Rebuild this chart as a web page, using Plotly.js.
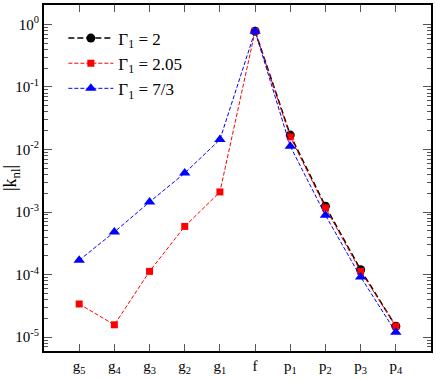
<!DOCTYPE html>
<html>
<head>
<meta charset="utf-8">
<script src="https://cdn.plot.ly/plotly-3.0.1.min.js"></script>
<style>
  html, body { margin: 0; padding: 0; background: #fff; }
  #chart { width: 436px; height: 381px; }
</style>
</head>
<body>
<div id="chart"></div>
<script>
// modes along the x axis
var modes = ['g<sub>5</sub>', 'g<sub>4</sub>', 'g<sub>3</sub>', 'g<sub>2</sub>', 'g<sub>1</sub>',
             'f', 'p<sub>1</sub>', 'p<sub>2</sub>', 'p<sub>3</sub>', 'p<sub>4</sub>'];

// |k_nl| for each Gamma_1 (null = not plotted)
var gamma2 = [null, null, null, null, null, 0.78, 0.017, 1.24e-3, 1.2e-4, 1.5e-5];
var gamma205 = [3.4e-5, 1.58e-5, 1.13e-4, 5.9e-4, 2.1e-3, 0.78, 0.0159, 1.17e-3, 1.13e-4, 1.5e-5];
var gamma73 = [1.7e-4, 4.8e-4, 1.45e-3, 4.2e-3, 1.44e-2, 0.78, 0.0113, 8.9e-4, 9.2e-5, 1.2e-5];

var yTickVals = [1, 1e-1, 1e-2, 1e-3, 1e-4, 1e-5];
var yTickText = ['10<sup>0</sup>', '10<sup>-1</sup>', '10<sup>-2</sup>', '10<sup>-3</sup>', '10<sup>-4</sup>', '10<sup>-5</sup>'];

var xIdx = modes.map((m, i) => i);
var serif = '"Liberation Serif", "Times New Roman", serif';

let makeTrace = (y, name, color, symbol, size, width, dash) => {
    return {
        x: xIdx,
        y: y,
        name: name,
        legendgroup: name,
        type: 'scatter',
        mode: 'lines+markers',
        connectgaps: false,
        line: { color: color, width: width, dash: dash },
        marker: { color: color, symbol: symbol, size: size }
    };
};

var traces = [
    makeTrace(gamma2, 'Γ<sub>1</sub> = 2', 'black', 'circle', 9, 1.5, '6px,3px'),
    makeTrace(gamma205, 'Γ<sub>1</sub> = 2.05', 'red', 'square', 7, 1, '4px,2px'),
    makeTrace(gamma73, 'Γ<sub>1</sub> = 7/3', 'blue', 'triangle-up', 10, 1, '4px,2px')
];

var layout = {
    width: 436,
    height: 381,
    margin: { l: 44, r: 5, t: 5, b: 30 },
    paper_bgcolor: 'white',
    plot_bgcolor: 'white',
    font: { family: serif, color: 'black', size: 14 },
    showlegend: true,
    legend: {
        x: 0.05, y: 0.955, xanchor: 'left', yanchor: 'top',
        bgcolor: 'rgba(0,0,0,0)',
        font: { family: serif, size: 17 },
        itemwidth: 45,
        tracegroupgap: 0
    },
    xaxis: {
        type: 'linear',
        range: [-1, 10],
        tickvals: xIdx,
        ticktext: modes,
        ticks: 'inside',
        ticklen: 7,
        tickcolor: '#555',
        showgrid: false,
        zeroline: false,
        showline: true,
        linecolor: 'black',
        linewidth: 2,
        mirror: 'allticks',
        tickfont: { family: serif, size: 15 }
    },
    yaxis: {
        type: 'log',
        range: [-5.22, 0.31],
        tickvals: yTickVals,
        ticktext: yTickText,
        ticks: 'inside',
        ticklen: 8,
        tickcolor: '#555',
        minor: { ticks: 'inside', ticklen: 4, tickcolor: '#555', dtick: 'D1' },
        showgrid: false,
        zeroline: false,
        showline: true,
        linecolor: 'black',
        linewidth: 2,
        mirror: 'allticks',
        tickfont: { family: serif, size: 15 },
        title: { text: '|k<sub>nl</sub>|', font: { family: serif, size: 18 }, standoff: 2 }
    }
};

Plotly.newPlot('chart', traces, layout, { displayModeBar: false, staticPlot: true });
</script>
</body>
</html>
